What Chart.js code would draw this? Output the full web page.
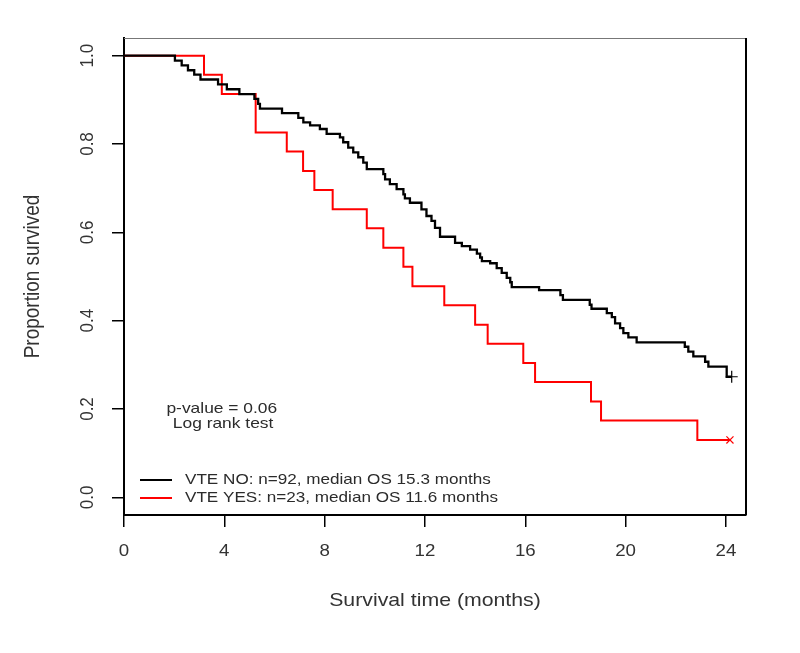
<!DOCTYPE html>
<html><head><meta charset="utf-8">
<script src="https://cdn.jsdelivr.net/npm/chart.js@4"></script>
<style>html,body{margin:0;padding:0;background:#fff}canvas{display:block}</style>
</head><body>
<canvas id="c" width="800" height="653"></canvas>
<script>
// ---- data ----
const xTicks = [0, 4, 8, 12, 16, 20, 24];
const xTickLabels = ['0', '4', '8', '12', '16', '20', '24'];
const yTicks = [0, 0.2, 0.4, 0.6, 0.8, 1.0];
const yTickLabels = ['0.0', '0.2', '0.4', '0.6', '0.8', '1.0'];

const noTimes = [0, 2.03, 2.3, 2.55, 2.8, 3.05, 3.75, 4.1, 4.6, 5.2, 5.35, 5.42, 6.3, 6.95, 7.15, 7.42, 7.81, 8.08, 8.61, 8.74, 8.94, 9.14, 9.34, 9.54, 9.68, 10.34, 10.41, 10.6, 10.87, 11.14, 11.2, 11.4, 11.86, 12.06, 12.26, 12.4, 12.6, 13.2, 13.47, 13.8, 14.07, 14.2, 14.27, 14.6, 14.86, 15.06, 15.26, 15.4, 15.46, 16.55, 17.4, 17.5, 18.57, 18.64, 19.25, 19.45, 19.58, 19.78, 19.91, 20.11, 20.44, 22.36, 22.5, 22.7, 23.17, 23.3, 24.03, 24.23];
const noSurv  = [1.0, 0.989, 0.978, 0.967, 0.957, 0.946, 0.935, 0.924, 0.913, 0.902, 0.891, 0.880, 0.870, 0.859, 0.849, 0.842, 0.834, 0.823, 0.815, 0.804, 0.792, 0.781, 0.770, 0.758, 0.743, 0.732, 0.720, 0.709, 0.698, 0.686, 0.677, 0.667, 0.652, 0.637, 0.626, 0.610, 0.590, 0.576, 0.569, 0.561, 0.552, 0.543, 0.535, 0.530, 0.519, 0.508, 0.497, 0.487, 0.476, 0.469, 0.458, 0.447, 0.436, 0.427, 0.417, 0.408, 0.394, 0.383, 0.372, 0.362, 0.351, 0.341, 0.330, 0.319, 0.307, 0.296, 0.273, 0.273];

const yesTimes = [0, 3.19, 3.9, 5.25, 6.49, 7.14, 7.59, 8.32, 9.68, 10.34, 11.14, 11.5, 12.77, 14.0, 14.5, 15.92, 16.39, 18.62, 19.02, 22.86, 24.16];
const yesSurv  = [1.0, 0.957, 0.913, 0.826, 0.783, 0.739, 0.696, 0.652, 0.609, 0.565, 0.522, 0.478, 0.435, 0.391, 0.348, 0.304, 0.261, 0.217, 0.174, 0.130, 0.130];

const seriesNames = ['VTE NO: n=92, median OS 15.3 months', 'VTE YES: n=23, median OS 11.6 months'];
const seriesColors = ['#000000', '#ff0000'];
const xTitle = 'Survival time (months)';
const yTitle = 'Proportion survived';
const noteLines = ['p-value = 0.06', 'Log rank test'];

// ---- helpers ----
const FONT = '"Liberation Sans", Arial, Helvetica, sans-serif';
function txt(ctx, s, x, y, size, align, rot, sx, col) {
  ctx.save();
  ctx.translate(x, y);
  ctx.scale(sx || 1, 1);
  if (rot) ctx.rotate(rot);
  ctx.font = size + 'px ' + FONT;
  ctx.textAlign = align;
  ctx.textBaseline = 'middle';
  ctx.fillStyle = col || '#2b2b2b';
  ctx.fillText(s, 0, 0);
  ctx.restore();
}
const toPts = (ts, ss) => ts.map((t, i) => ({x: t, y: ss[i]}));

const decor = {
  id: 'decor',
  afterDraw(chart) {
    const {ctx, chartArea: a, scales: {x, y}} = chart;
    // box top / right
    ctx.save();
    ctx.strokeStyle = '#777'; ctx.lineWidth = 1;
    ctx.beginPath(); ctx.moveTo(a.left, a.top + 0.5); ctx.lineTo(a.right, a.top + 0.5); ctx.stroke();
    ctx.strokeStyle = '#000'; ctx.lineWidth = 2;
    ctx.beginPath(); ctx.moveTo(a.right, a.top); ctx.lineTo(a.right, a.bottom); ctx.stroke();
    ctx.restore();
    // tick labels
    xTicks.forEach((v, i) => txt(ctx, xTickLabels[i], x.getPixelForValue(v), a.bottom + 36, 17, 'center', 0, 1.1, '#333'));
    yTicks.forEach((v, i) => txt(ctx, yTickLabels[i], a.left - 36, y.getPixelForValue(v), 17, 'center', -Math.PI / 2, 1.1, '#333'));
    // axis titles
    txt(ctx, xTitle, (a.left + a.right) / 2, a.bottom + 86, 19, 'center', 0, 1.12, '#333');
    txt(ctx, yTitle, a.left - 91, (a.top + a.bottom) / 2, 19, 'center', -Math.PI / 2, 1.12, '#333');
    // notes
    txt(ctx, noteLines[0], x.getPixelForValue(3.9), y.getPixelForValue(0.2), 14.5, 'center', 0, 1.2);
    txt(ctx, noteLines[1], x.getPixelForValue(3.95), y.getPixelForValue(0.166), 14.5, 'center', 0, 1.2);
    // legend
    const ly = [a.bottom - 35, a.bottom - 17];
    seriesNames.forEach((n, i) => {
      ctx.save();
      ctx.strokeStyle = seriesColors[i]; ctx.lineWidth = 2;
      ctx.beginPath(); ctx.moveTo(a.left + 16, ly[i]); ctx.lineTo(a.left + 48, ly[i]); ctx.stroke();
      ctx.restore();
      txt(ctx, n, a.left + 61, ly[i], 14.5, 'left', 0, 1.18);
    });
  }
};

const lastR = (n, r) => (c) => c.dataIndex === n - 1 ? r : 0;

new Chart(document.getElementById('c'), {
  type: 'line',
  data: {
    datasets: [
      {
        label: seriesNames[0], data: toPts(noTimes, noSurv), stepped: 'before',
        borderColor: seriesColors[0], borderWidth: 2.3, fill: false,
        pointStyle: 'cross', pointRadius: lastR(noTimes.length, 6), pointBorderColor: '#000',
        pointBorderWidth: 1.2, pointHoverRadius: 0
      },
      {
        label: seriesNames[1], data: toPts(yesTimes, yesSurv), stepped: 'before',
        borderColor: seriesColors[1], borderWidth: 2, fill: false,
        pointStyle: 'crossRot', pointRadius: lastR(yesTimes.length, 5), pointBorderColor: '#ff0000',
        pointBorderWidth: 1.2, pointHoverRadius: 0
      }
    ]
  },
  options: {
    responsive: false, animation: false, devicePixelRatio: 1,
    layout: {padding: {top: 38, right: 54, left: 0, bottom: 0}},
    plugins: {legend: {display: false}, tooltip: {enabled: false}},
    scales: {
      x: {
        type: 'linear', min: 0, max: 24.8,
        afterBuildTicks: s => { s.ticks = xTicks.map(v => ({value: v})); },
        afterFit: s => { s.height = 138; },
        ticks: {display: false},
        grid: {drawOnChartArea: false, drawTicks: true, tickLength: 12, color: '#000', lineWidth: 1.5},
        border: {display: true, color: '#000', width: 2}
      },
      y: {
        type: 'linear', min: -0.04, max: 1.04,
        afterBuildTicks: s => { s.ticks = yTicks.map(v => ({value: v})); },
        afterFit: s => { s.width = 124; },
        ticks: {display: false},
        grid: {drawOnChartArea: false, drawTicks: true, tickLength: 12, color: '#000', lineWidth: 1.5},
        border: {display: true, color: '#000', width: 2}
      }
    }
  },
  plugins: [decor]
});
</script>
</body></html>
